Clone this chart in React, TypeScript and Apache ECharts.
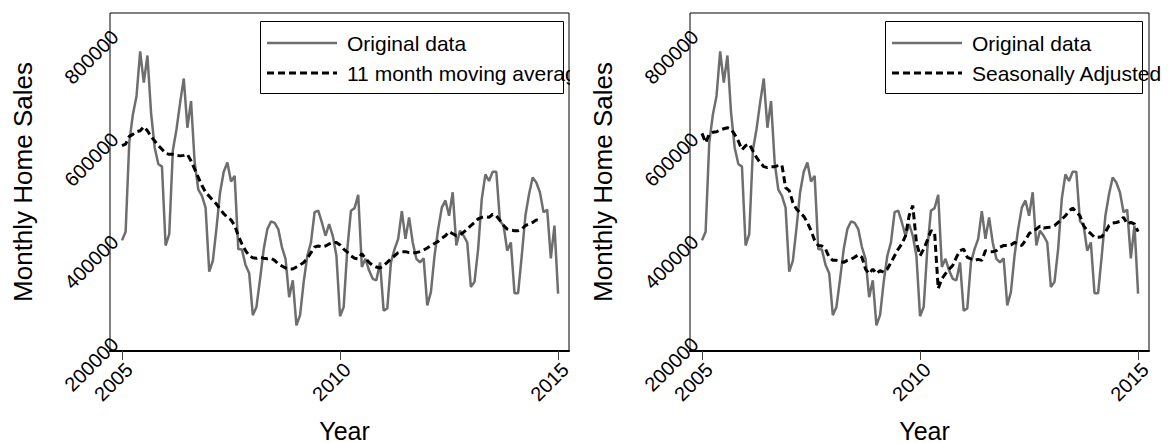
import React, { useEffect, useRef } from "react";
import * as echarts from "echarts";

const START_YEAR = 2005;
const xTicks = [2005, 2010, 2015];
const yTicks = [200000, 400000, 600000, 800000];

const originalData = [
  396000, 413000, 587000, 642000, 678000, 765000, 704000, 757000, 645000, 577000,
  545000, 540000, 386000, 408000, 572000, 613000, 665000, 712000, 616000, 668000,
  548000, 495000, 483000, 460000, 335000, 356000, 420000, 490000, 530000, 548000,
  511000, 522000, 379000, 378000, 348000, 332000, 250000, 266000, 321000, 379000,
  418000, 433000, 430000, 418000, 383000, 360000, 285000, 318000, 230000, 250000,
  315000, 366000, 392000, 451000, 454000, 431000, 405000, 428000, 405000, 366000,
  248000, 266000, 379000, 454000, 459000, 485000, 344000, 360000, 337000, 321000,
  318000, 353000, 259000, 263000, 353000, 379000, 399000, 453000, 399000, 441000,
  392000, 360000, 353000, 361000, 269000, 295000, 366000, 418000, 460000, 474000,
  444000, 490000, 386000, 415000, 405000, 392000, 305000, 315000, 379000, 477000,
  525000, 512000, 530000, 530000, 434000, 425000, 376000, 392000, 293000, 293000,
  366000, 444000, 486000, 519000, 509000, 490000, 451000, 456000, 361000, 425000,
  292000,
];

const movingAverage = [
  581000, 584000, 599000, 603000, 608000, 610000, 618000, 610000, 599000, 590000,
  581000, 574000, 566000, 564000, 564000, 562000, 561000, 562000, 564000, 551000,
  535000, 519000, 503000, 490000, 482000, 474000, 467000, 457000, 448000, 441000,
  436000, 425000, 405000, 389000, 376000, 366000, 362000, 361000, 363000, 361000,
  360000, 361000, 357000, 350000, 346000, 342000, 340000, 340000, 344000, 348000,
  353000, 361000, 372000, 383000, 385000, 383000, 385000, 389000, 392000, 392000,
  387000, 379000, 373000, 366000, 361000, 360000, 370000, 361000, 353000, 347000,
  344000, 342000, 347000, 353000, 360000, 366000, 372000, 374000, 374000, 372000,
  372000, 372000, 374000, 377000, 381000, 386000, 390000, 394000, 400000, 405000,
  413000, 409000, 405000, 407000, 412000, 418000, 425000, 431000, 438000, 441000,
  442000, 441000, 447000, 444000, 435000, 425000, 418000, 416000, 415000, 415000,
  418000, 425000, 428000, 431000, 436000, 434000,
];

const seasonallyAdjusted = [
  605000, 587000, 603000, 607000, 608000, 612000, 614000, 616000, 613000, 603000,
  590000, 573000, 581000, 584000, 571000, 558000, 548000, 540000, 538000, 540000,
  540000, 542000, 543000, 499000, 493000, 470000, 457000, 450000, 443000, 431000,
  415000, 396000, 386000, 385000, 379000, 363000, 357000, 357000, 355000, 353000,
  357000, 359000, 363000, 368000, 363000, 340000, 331000, 340000, 331000, 337000,
  334000, 340000, 353000, 366000, 379000, 389000, 405000, 444000, 464000, 392000,
  366000, 379000, 396000, 415000, 412000, 302000, 321000, 331000, 340000, 347000,
  363000, 376000, 379000, 363000, 360000, 357000, 359000, 357000, 376000, 374000,
  374000, 376000, 383000, 386000, 386000, 387000, 392000, 389000, 386000, 396000,
  409000, 415000, 418000, 424000, 420000, 421000, 422000, 425000, 431000, 437000,
  444000, 454000, 459000, 452000, 444000, 425000, 415000, 409000, 402000, 402000,
  403000, 412000, 425000, 430000, 431000, 433000, 441000, 428000, 431000, 428000,
  413000,
];

const FONT = "'Liberation Sans', Arial, Helvetica, sans-serif";
const GRAY = "#6e6e6e";

const toPoints = (arr: number[]) => arr.map((v, i) => [START_YEAR + i / 12, v]);

const makeX = (gridIndex: number) => ({
  type: "value",
  gridIndex,
  min: 2004.725,
  max: 2015.25,
  axisLine: { show: true, onZero: false, lineStyle: { color: "#000", width: 2 } },
  axisTick: { show: true, customValues: xTicks, length: 9, lineStyle: { color: "#444", width: 1 } },
  axisLabel: {
    customValues: xTicks,
    rotate: 45,
    margin: 8,
    fontSize: 20,
    color: "#000",
    fontFamily: FONT,
    verticalAlign: "top",
    formatter: (v: number) => String(Math.round(v)),
  },
  splitLine: { show: false },
  name: "Year",
  nameLocation: "middle",
  nameGap: 67,
  nameTextStyle: { fontSize: 25, color: "#000", fontFamily: FONT, padding: [0, 0, 0, 10] },
});

const makeY = (gridIndex: number) => ({
  type: "value",
  gridIndex,
  min: 180000,
  max: 840000,
  axisLine: { show: false },
  axisTick: { show: false },
  axisLabel: {
    customValues: yTicks,
    rotate: 45,
    margin: -5,
    padding: [0, 0, 8, 0],
    fontSize: 20,
    color: "#000",
    fontFamily: FONT,
    formatter: (v: number) => String(Math.round(v)),
  },
  splitLine: { show: false },
  name: "Monthly Home Sales",
  nameLocation: "middle",
  nameGap: 74,
  nameTextStyle: { fontSize: 26, color: "#000", fontFamily: FONT },
});

const legendBox = (x: number, w: number, label2: string, cover: boolean) => {
  const els: any[] = [
    {
      type: "rect",
      z: 100,
      shape: { x: x + 0.5, y: 21.5, width: w, height: 72 },
      style: { fill: "#fff", stroke: "#000", lineWidth: 1 },
    },
    {
      type: "line",
      z: 101,
      shape: { x1: x + 7, y1: 43, x2: x + 77, y2: 43 },
      style: { stroke: GRAY, lineWidth: 2.5 },
    },
    {
      type: "text",
      z: 101,
      x: x + 87,
      y: 43,
      style: { text: "Original data", fontSize: 21, fill: "#000", fontFamily: FONT, verticalAlign: "middle" },
    },
    {
      type: "line",
      z: 101,
      shape: { x1: x + 7, y1: 73, x2: x + 77, y2: 73 },
      style: { stroke: "#000", lineWidth: 3, lineDash: [7, 4] },
    },
    {
      type: "text",
      z: 101,
      x: x + 87,
      y: 73,
      style: { text: label2, fontSize: 21, fill: "#000", fontFamily: FONT, verticalAlign: "middle" },
    },
  ];
  if (cover) {
    els.push({
      type: "rect",
      z: 102,
      shape: { x: 570, y: 55, width: 21, height: 36 },
      style: { fill: "#fff" },
    });
  }
  return els;
};

export default function App() {
  const ref = useRef<HTMLDivElement>(null);
  useEffect(() => {
    document.body.style.margin = "0";
    if (!ref.current) return;
    const chart = echarts.init(ref.current, null, { renderer: "svg" });
    chart.setOption({
      animation: false,
      backgroundColor: "#fff",
      grid: [
        {
          left: 110, top: 13, width: 459, height: 338,
          show: true, borderColor: "#000", borderWidth: 1,
          outerBoundsMode: "none", containLabel: false,
        },
        {
          left: 690, top: 13, width: 459, height: 338,
          show: true, borderColor: "#000", borderWidth: 1,
          outerBoundsMode: "none", containLabel: false,
        },
      ],
      xAxis: [makeX(0), makeX(1)],
      yAxis: [makeY(0), makeY(1)],
      series: [
        {
          type: "line",
          name: "Original data",
          xAxisIndex: 0,
          yAxisIndex: 0,
          data: toPoints(originalData),
          symbol: "none",
          lineStyle: { color: GRAY, width: 2.5 },
        },
        {
          type: "line",
          name: "11 month moving average",
          xAxisIndex: 0,
          yAxisIndex: 0,
          data: toPoints(movingAverage),
          symbol: "none",
          lineStyle: { color: "#000", width: 3, type: [7, 4] },
        },
        {
          type: "line",
          name: "Original data",
          xAxisIndex: 1,
          yAxisIndex: 1,
          data: toPoints(originalData),
          symbol: "none",
          lineStyle: { color: GRAY, width: 2.5 },
        },
        {
          type: "line",
          name: "Seasonally Adjusted",
          xAxisIndex: 1,
          yAxisIndex: 1,
          data: toPoints(seasonallyAdjusted),
          symbol: "none",
          lineStyle: { color: "#000", width: 3, type: [7, 4] },
        },
      ],
      graphic: [
        ...legendBox(260, 303, "11 month moving average", true),
        ...legendBox(885, 257, "Seasonally Adjusted", false),
      ],
    });
    return () => chart.dispose();
  }, []);
  return (
    <div
      ref={ref}
      style={{ position: "absolute", left: 0, top: 0, width: 1171, height: 443 }}
    />
  );
}
